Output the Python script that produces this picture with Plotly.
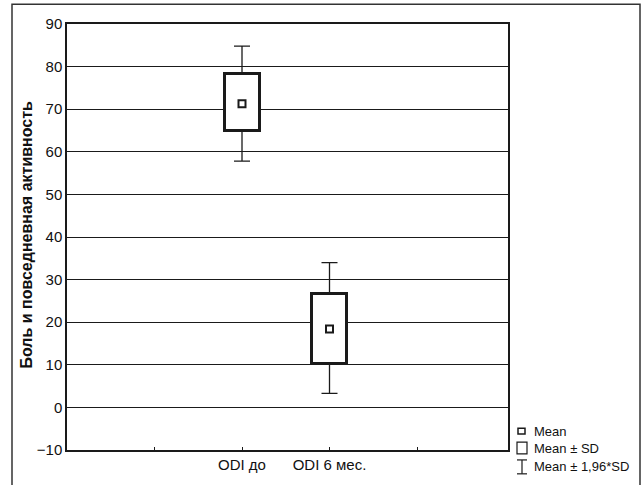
import plotly.graph_objects as go

categories = ["ODI до", "ODI 6 мес."]
cat_pos = [2, 3]
means = [71.3, 18.4]
sd_upper = [78.3, 26.6]
sd_lower = [64.8, 10.3]
ci_upper = [84.8, 34.0]
ci_lower = [57.8, 3.3]

y_ticks = [-10, 0, 10, 20, 30, 40, 50, 60, 70, 80, 90]
y_tick_labels = ["\u221210", "0", "10", "20", "30", "40", "50", "60", "70", "80", "90"]
y_title = "Боль и повседневная активность"

FONT = "Liberation Sans, Arial, sans-serif"
LC = "#1a1a1a"

fig = go.Figure()

# Mean ± SD boxes
fig.add_trace(go.Bar(
    x=cat_pos,
    base=sd_lower,
    y=[u - l for u, l in zip(sd_upper, sd_lower)],
    width=0.4,
    marker=dict(color="white", line=dict(color=LC, width=3)),
    showlegend=False, hoverinfo="skip",
))

# Upper whiskers (Mean ± 1.96*SD)
fig.add_trace(go.Scatter(
    x=cat_pos, y=sd_upper, mode="markers",
    marker=dict(size=1, color="rgba(0,0,0,0)"),
    error_y=dict(type="data", symmetric=False,
                 array=[c - s for c, s in zip(ci_upper, sd_upper)],
                 arrayminus=[0, 0], color=LC, thickness=1.3, width=8),
    showlegend=False, hoverinfo="skip",
))
# Lower whiskers
fig.add_trace(go.Scatter(
    x=cat_pos, y=sd_lower, mode="markers",
    marker=dict(size=1, color="rgba(0,0,0,0)"),
    error_y=dict(type="data", symmetric=False,
                 array=[0, 0],
                 arrayminus=[s - c for s, c in zip(sd_lower, ci_lower)],
                 color=LC, thickness=1.3, width=8),
    showlegend=False, hoverinfo="skip",
))

# Means
fig.add_trace(go.Scatter(
    x=cat_pos, y=means, mode="markers",
    marker=dict(symbol="square", size=7, color="white", line=dict(color=LC, width=2)),
    showlegend=False, hoverinfo="skip",
))

def px_x(p):
    return (p - 67) / 441.0

def px_y(p):
    return (453 - p) / 429.0

shapes = [
    # outer frame
    dict(type="rect", xref="paper", yref="paper",
         x0=px_x(12), x1=px_x(640), y0=px_y(492), y1=px_y(4),
         line=dict(color="#333", width=1.5), fillcolor="rgba(0,0,0,0)", layer="below"),
    # legend: Mean square
    dict(type="rect", xref="paper", yref="paper",
         x0=px_x(518), x1=px_x(525), y0=px_y(437), y1=px_y(431),
         line=dict(color=LC, width=1.5)),
    # legend: Mean ± SD box
    dict(type="rect", xref="paper", yref="paper",
         x0=px_x(517), x1=px_x(527), y0=px_y(457), y1=px_y(445),
         line=dict(color=LC, width=1.2)),
    # legend: whisker
    dict(type="line", xref="paper", yref="paper",
         x0=px_x(522), x1=px_x(522), y0=px_y(477), y1=px_y(463),
         line=dict(color=LC, width=1.2)),
    dict(type="line", xref="paper", yref="paper",
         x0=px_x(517), x1=px_x(527), y0=px_y(463), y1=px_y(463),
         line=dict(color=LC, width=1.2)),
    dict(type="line", xref="paper", yref="paper",
         x0=px_x(517), x1=px_x(527), y0=px_y(477), y1=px_y(477),
         line=dict(color=LC, width=1.2)),
]

legend_texts = ["Mean", "Mean ± SD", "Mean ± 1,96*SD"]
legend_y = [434, 451, 470]
annotations = [
    dict(text=t, xref="paper", yref="paper", x=px_x(532), y=px_y(yy),
         xanchor="left", yanchor="middle", showarrow=False,
         font=dict(family=FONT, size=13, color="#111"))
    for t, yy in zip(legend_texts, legend_y)
]
annotations.append(dict(
    text="<b>" + y_title + "</b>", xref="paper", yref="paper",
    x=px_x(27), y=px_y(236), xanchor="center", yanchor="middle",
    textangle=-90, showarrow=False,
    font=dict(family=FONT, size=16, color="#111"),
))

fig.update_layout(
    width=644, height=485,
    margin=dict(l=67, r=136, t=24, b=32),
    paper_bgcolor="white", plot_bgcolor="white",
    font=dict(family=FONT, size=15, color="#111"),
    shapes=shapes, annotations=annotations,
    showlegend=False, bargap=0,
    xaxis=dict(
        range=[0, 5.04],
        tickmode="array", tickvals=[1, 2, 3, 4],
        ticktext=["", categories[0], categories[1], ""],
        ticks="inside", ticklen=3, tickcolor=LC, tickwidth=1,
        showgrid=False, zeroline=False,
        showline=True, linecolor=LC, linewidth=1.5, mirror=True,
        tickfont=dict(family=FONT, size=15),
    ),
    yaxis=dict(
        range=[-10, 90],
        tickmode="array", tickvals=y_ticks, ticktext=y_tick_labels,
        showgrid=True, gridcolor=LC, gridwidth=1.2,
        zeroline=False, ticks="",
        showline=True, linecolor=LC, linewidth=1.5, mirror=True,
        tickfont=dict(family=FONT, size=15),
    ),
)

fig.write_html("out.html", config={"displayModeBar": False},
               post_script="document.body.style.margin='0px';")
